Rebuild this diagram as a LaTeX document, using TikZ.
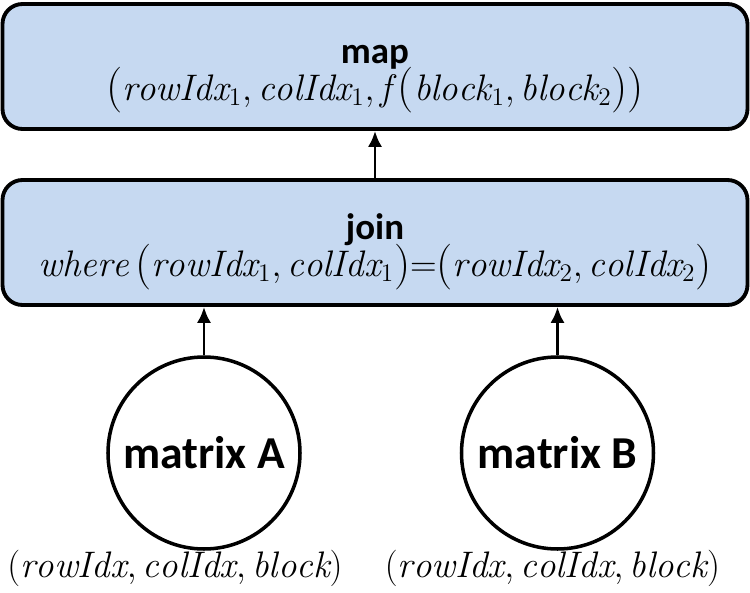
\documentclass[tikz,border=0pt]{standalone}
\usepackage{amsmath}
\usepackage{fontspec}
\newfontfamily\labelfont{Carlito}
\usepackage{tikz}
\usetikzlibrary{shapes,arrows.meta}
\definecolor{opfill}{RGB}{198,217,241}
\tikzstyle{opbox} = [rectangle, rounded corners=0.4cm, minimum width=14.9cm, minimum height=2.5cm, text centered, align=center, draw=black, line width=2.2pt, fill=opfill]
\tikzstyle{dataset} = [circle, minimum width=3.84cm, draw=black, line width=2pt, fill=white, inner sep=0pt]
\tikzstyle{schema} = [text centered, font=\fontsize{21}{25}\selectfont]
\tikzstyle{arrow} = [line width=1.7pt,-{Latex[length=9pt,width=8pt]}]
\newcommand{\opname}[1]{{\labelfont\bfseries\fontsize{21}{25}\selectfont\rule{0pt}{25pt}#1}}
\newcommand{\ix}[1]{\mathit{#1}}
\newcommand{\lp}{\text{\fontsize{26}{26}\selectfont\raisebox{-1pt}{(}}}
\newcommand{\rp}{\text{\fontsize{26}{26}\selectfont\raisebox{-1pt}{)}}}

\begin{document}
\begin{tikzpicture}[node distance=3.52cm]
        \useasboundingbox (0,0) rectangle (15,-11.86);
        \node (map) [opbox] at (7.5,-1.33) {\opname{map}\\[-2pt]
          {\fontsize{21}{25}\selectfont $\lp\ix{rowIdx}_1,\ix{colIdx}_1,\ix{f}\,\lp\ix{block}_1,\ix{block}_2\rp\rp$}};
        \node (join) [opbox, below of=map] {\opname{join}\\[-2pt]
          {\fontsize{21}{25}\selectfont $\ix{where}\,\lp\ix{rowIdx}_1,\ix{colIdx}_1\rp\text{=}\lp\ix{rowIdx}_2,\ix{colIdx}_2\rp$}};
        \node (matA) [dataset] at (4.08,-9.06) {{\labelfont\bfseries\fontsize{26}{30}\selectfont matrix A}};
        \node (matB) [dataset] at (11.15,-9.06) {{\labelfont\bfseries\fontsize{26}{30}\selectfont matrix B}};
        \node (tupA) [schema] at (3.5,-11.36) {$(\ix{rowIdx}, \ix{colIdx}, \ix{block})$};
        \node (tupB) [schema] at (11.05,-11.36) {$(\ix{rowIdx}, \ix{colIdx}, \ix{block})$};
        \draw [arrow] (join) -- (map);
        \draw [arrow] (matA) -- (matA |- join.south);
        \draw [arrow] (matB) -- (matB |- join.south);
        \end{tikzpicture}
\end{document}
